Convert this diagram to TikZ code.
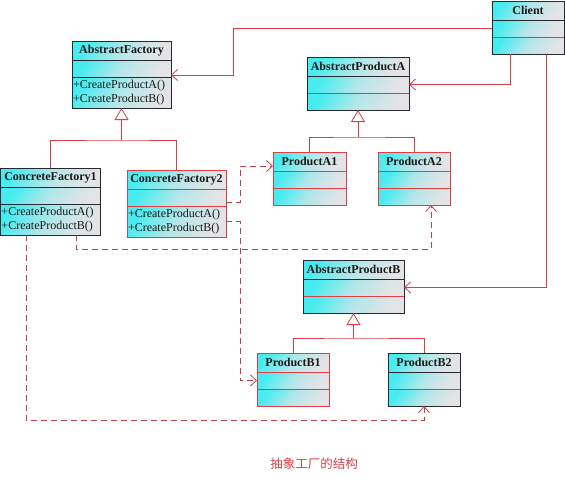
\documentclass[tikz,border=0pt]{standalone}
\usepackage{fontspec}
\setmainfont{Liberation Serif}
\newfontfamily\cjk{Noto Sans CJK SC}
\usetikzlibrary{arrows.meta}

\definecolor{umlred}{RGB}{222,62,68}
\definecolor{deplred}{RGB}{200,64,74}
\definecolor{umldark}{RGB}{40,40,48}
\definecolor{umlcyan}{RGB}{70,236,240}
\definecolor{umlgray}{RGB}{228,228,230}

\tikzset{
	umlsec/.style={draw=none,shading=axis,left color=umlcyan,right color=umlgray,
		middle color=umlgray!70!umlcyan,shading angle=55,inner sep=1pt,outer sep=0pt,
		anchor=north west,font=\fontsize{12}{14}\selectfont,text=black!90},
	assoc/.style={draw=umlred,line width=0.8pt,-{Straight Barb[length=6pt,width=11pt]}},
	dep/.style={draw=deplred,line width=0.8pt,dash pattern=on 6pt off 4pt,
		-{Straight Barb[length=6pt,width=11pt]}},
	gen/.style={draw=umlred,line width=0.8pt},
	inherit/.style={draw=umlred,line width=0.8pt,-{Triangle[open,length=12pt,width=14pt]}},
	caption/.style={text=umlred,font=\cjk\fontsize{12.5}{14}\selectfont}
}

% name, x, y, width, border, second line, title, ops, ops height
\newcommand{\umlclass}[9]{
	\node[umlsec,minimum width=#4pt,minimum height=19pt] (#1) at (#2,#3) {\bfseries #7};
	\node[umlsec,minimum width=#4pt,minimum height=17pt] (#1-a) at (#1.south west) {};
	\node[umlsec,minimum width=#4pt,minimum height=#9pt,text width=#4pt-2pt,align=left] (#1-o) at (#1-a.south west) {#8};
	\draw[#6,line width=0.8pt] (#1-a.south west) -- (#1-a.south east);
	\draw[#5,line width=0.8pt] (#1.south west) -- (#1.south east);
	\draw[#5,line width=0.8pt] (#1.north west) rectangle (#1-o.south east);
}

\begin{document}
\begin{tikzpicture}[x=1pt,y=-1pt]
	\useasboundingbox (0,0) rectangle (565,482);

	\umlclass{client}{492}{1}{72}{umldark}{umlred}{Client}{}{17}
	\umlclass{af}{72}{41}{99}{umldark}{umldark}{AbstractFactory}{+CreateProductA()\\+CreateProductB()}{31}
	\umlclass{cfa}{0.5}{168}{100}{umldark}{umldark}{ConcreteFactory1}{+CreateProductA()\\+CreateProductB()}{31}
	\umlclass{cfb}{127}{170}{99}{umlred}{umlred}{ConcreteFactory2}{+CreateProductA()\\+CreateProductB()}{31}
	\umlclass{apa}{307}{57}{102}{umldark}{umlred}{AbstractProductA}{}{17}
	\umlclass{pa1}{273}{152}{73}{umlred}{umlred}{ProductA1}{}{17}
	\umlclass{pa2}{378}{152}{72}{umlred}{umlred}{ProductA2}{}{17}
	\umlclass{apb}{303}{260}{101}{umldark}{umlred}{AbstractProductB}{}{17}
	\umlclass{pb1}{257}{353}{72}{umlred}{umlred}{ProductB1}{}{17}
	\umlclass{pb2}{388}{353}{72}{umldark}{umlred}{ProductB2}{}{17}

	\coordinate (afj) at (af-o.south |- 0,140);
	\coordinate (apaj) at (apa-o.south |- 0,137);
	\coordinate (apbj) at (apb-o.south |- 0,338);
	\coordinate (cbend) at (233,75);

	\draw[gen] (cfa.north) |- (afj) -| (cfb.north);
	\draw[inherit] (afj) -- (af-o.south);
	\draw[gen] (pa1.north) |- (apaj) -| (pa2.north);
	\draw[inherit] (apaj) -- (apa-o.south);
	\draw[gen] (pb1.north) |- (apbj) -| (pb2.north);
	\draw[inherit] (apbj) -- (apb-o.south);

	\draw[assoc] (client-a.west) -| (cbend) -- (cbend -| af-a.east);
	\draw[assoc] (client-o.south -| 510,0) |- (apa-a.east);
	\draw[assoc] (client-o.south -| 546,0) |- (apb-a.east);

	\draw[dep] ([yshift=-4.5pt]cfb-a.east) -- ++(14,0) |- ([yshift=-4.5pt]pa1.west);
	\draw[dep] (cfb-o.east) -- ++(14,0) |- (pb1-a.west);
	\draw[dep] (cfa-o.south -| 76,0) -- ++(0,14) -| ([xshift=17pt]pa2-o.south);
	\draw[dep] (cfa-o.south -| 26,0) -- ++(0,185) -| (pb2-o.south);

	\node[caption] (title) at (314,464) {抽象工厂的结构};
\end{tikzpicture}
\end{document}
